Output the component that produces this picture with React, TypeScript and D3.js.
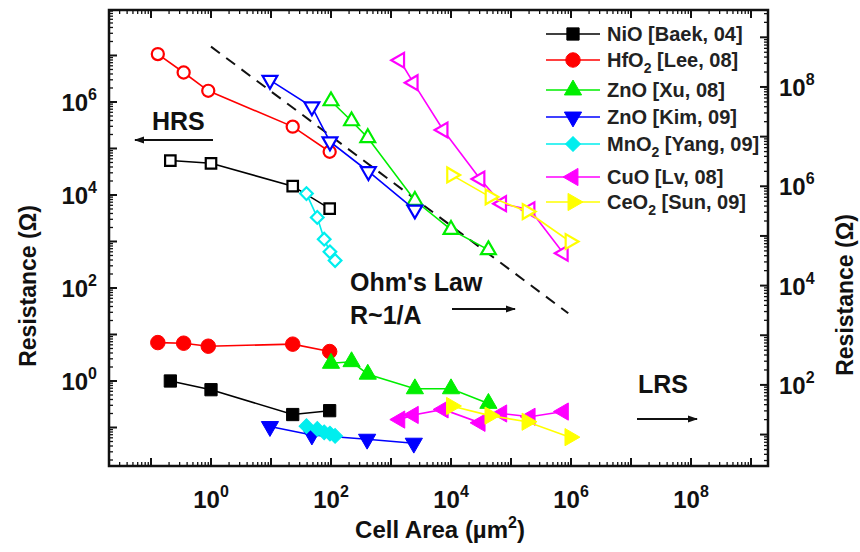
import React from 'react';
import * as d3 from 'd3';

// ---------------- data ----------------
const nioArea = [0.21, 1.0, 23, 95];
const nioHrs = [5.5e4, 4.8e4, 1.55e4, 5.1e3];
const nioLrs = [1.0, 0.65, 0.19, 0.23];

const hfo2Area = [0.13, 0.35, 0.9, 23, 95];
const hfo2Hrs = [1.07e7, 4.3e6, 1.74e6, 2.95e5, 8.5e4];
const hfo2Lrs = [6.7, 6.5, 5.6, 6.2, 4.3];

const znoXuArea = [100, 220, 410, 2500, 10000, 42000];
const znoXuHrs = [1.05e6, 3.9e5, 1.7e5, 7.6e3, 1.8e3, 660];
const znoXuLrs = [2.4, 2.6, 1.4, 0.68, 0.68, 0.33];

const znoKimAreaHrs = [9.6, 48, 96, 420, 2500];
const znoKimHrs = [2.95e6, 7.9e5, 1.4e5, 3.2e4, 4.8e3];
const znoKimAreaLrs = [9.6, 48, 400, 2400];
const znoKimLrs = [0.105, 0.069, 0.056, 0.046];

const mno2Area = [39, 59, 77, 96, 117];
const mno2Hrs = [1.07e4, 3.3e3, 1.12e3, 600, 390];
const mno2Lrs = [0.107, 0.093, 0.079, 0.074, 0.066];

const cuoArea = [1400, 2350, 7400, 30500, 70000, 208000, 745000];
const cuoHrs = [7.9e6, 2.6e6, 2.5e5, 2.2e4, 6.5e3, 4.8e3, 560];
const cuoLrs = [0.148, 0.186, 0.245, 0.126, 0.2, 0.17, 0.22];

const ceo2Area = [10200, 44600, 185000, 960000];
const ceo2Hrs = [2.7e4, 9.1e3, 4.4e3, 1.0e3];
const ceo2Lrs = [0.29, 0.18, 0.133, 0.062];

const ohmArea = [1, 9e5];
const ohmR = [1.55e7, 28.6];

const xTickExps = [0, 2, 4, 6, 8];
const yLeftTickExps = [0, 2, 4, 6];
const yRightTickExps = [2, 4, 6, 8];

const legendPre = ['NiO', 'HfO', 'ZnO', 'ZnO', 'MnO', 'CuO', 'CeO'];
const legendSub = ['', '2', '', '', '2', '', '2'];
const legendPost = [' [Baek, 04]', ' [Lee, 08]', ' [Xu, 08]', ' [Kim, 09]', ' [Yang, 09]', ' [Lv, 08]', ' [Sun, 09]'];

// ---------------- layout ----------------
const W = 860, H = 552;
const L = 109, R = 768, T = 10, B = 466;
const FONT = "'Liberation Sans', Arial, Helvetica, sans-serif";

const x = d3.scaleLog().domain([10 ** -1.7, 10 ** 9.283]).range([L, R]);
const y = d3.scaleLog().domain([10 ** -1.828, 10 ** 7.978]).range([B, T]);
const yR = d3.scaleLog().domain([10 ** 0.367, 10 ** 9.55]).range([B, T]);

type Sym = 'square' | 'circle' | 'up' | 'down' | 'diamond' | 'left' | 'right';

interface Series {
  color: string;
  sym: Sym;
  hrsX: number[];
  hrsY: number[];
  lrsX: number[];
  lrsY: number[];
}

const series: Series[] = [
  { color: '#000000', sym: 'square', hrsX: nioArea, hrsY: nioHrs, lrsX: nioArea, lrsY: nioLrs },
  { color: '#ff0000', sym: 'circle', hrsX: hfo2Area, hrsY: hfo2Hrs, lrsX: hfo2Area, lrsY: hfo2Lrs },
  { color: '#00ee00', sym: 'up', hrsX: znoXuArea, hrsY: znoXuHrs, lrsX: znoXuArea, lrsY: znoXuLrs },
  { color: '#0000ff', sym: 'down', hrsX: znoKimAreaHrs, hrsY: znoKimHrs, lrsX: znoKimAreaLrs, lrsY: znoKimLrs },
  { color: '#00eeee', sym: 'diamond', hrsX: mno2Area, hrsY: mno2Hrs, lrsX: mno2Area, lrsY: mno2Lrs },
  { color: '#ff00ff', sym: 'left', hrsX: cuoArea, hrsY: cuoHrs, lrsX: cuoArea, lrsY: cuoLrs },
  { color: '#ffff00', sym: 'right', hrsX: ceo2Area, hrsY: ceo2Hrs, lrsX: ceo2Area, lrsY: ceo2Lrs },
];

function symPath(sym: Sym, filled: boolean): { d: string; rot: number } {
  const k = filled ? 1.35 : 1;
  switch (sym) {
    case 'square':
      return { d: d3.symbol(d3.symbolSquare, (filled ? 150 : 110))()!, rot: 0 };
    case 'circle':
      return { d: d3.symbol(d3.symbolCircle, (filled ? 165 : 115))()!, rot: 0 };
    case 'diamond':
      return { d: d3.symbol(d3.symbolSquare, (filled ? 110 : 80))()!, rot: 45 };
    case 'up':
      return { d: d3.symbol(d3.symbolTriangle, 95 * k)()!, rot: 0 };
    case 'down':
      return { d: d3.symbol(d3.symbolTriangle, 95 * k)()!, rot: 180 };
    case 'left':
      return { d: d3.symbol(d3.symbolTriangle, 95 * k)()!, rot: -90 };
    case 'right':
      return { d: d3.symbol(d3.symbolTriangle, 95 * k)()!, rot: 90 };
  }
}

function logTicks(scale: d3.ScaleLogarithmic<number, number>) {
  const [a, b] = scale.domain();
  const lo = Math.floor(Math.log10(a));
  const hi = Math.ceil(Math.log10(b));
  const majors: number[] = [];
  const minors: number[] = [];
  for (let k = lo; k <= hi; k++) {
    const v = 10 ** k;
    if (v >= a && v <= b) majors.push(v);
    for (let m = 2; m <= 9; m++) {
      const w = m * 10 ** k;
      if (w >= a && w <= b) minors.push(w);
    }
  }
  return { majors, minors };
}

const lineGen = d3.line<[number, number]>().x((d) => d[0]).y((d) => d[1]);

function Markers({ xs, ys, s, filled, color }: { xs: number[]; ys: number[]; s: Sym; filled: boolean; color: string }) {
  const p = symPath(s, filled);
  return (
    <g>
      {xs.map((v, i) => (
        <path
          key={i}
          d={p.d}
          transform={`translate(${x(v)},${y(ys[i])}) rotate(${p.rot})`}
          fill={filled ? color : 'white'}
          stroke={color}
          strokeWidth={filled ? 1 : 2.2}
        />
      ))}
    </g>
  );
}

function Pow({ xx, yy, exp, anchor }: { xx: number; yy: number; exp: number; anchor: 'start' | 'middle' | 'end' }) {
  return (
    <text x={xx} y={yy} textAnchor={anchor} fontFamily={FONT} fontWeight="bold" fontSize={24} fill="#111">
      <tspan>10</tspan>
      <tspan dy={-11} fontSize={16}>{exp}</tspan>
    </text>
  );
}

export default function App() {
  const xt = logTicks(x);
  const yt = logTicks(y);
  const yrt = logTicks(yR);
  const MAJ = 8, MIN = 4;

  return (
    <svg width={W} height={H} style={{ position: 'absolute', left: 0, top: 0, background: 'white' }}>
      <defs>
        <marker id="ah" viewBox="0 0 10 10" refX="9" refY="5" markerWidth="5" markerHeight="5" orient="auto">
          <path d="M0,1.5 L10,5 L0,8.5 z" fill="#111" />
        </marker>
      </defs>
      <rect x={0} y={0} width={W} height={H} fill="white" />

      {/* Ohm's law dashed line */}
      <path
        d={lineGen(ohmArea.map((v, i) => [x(v), y(ohmR[i])]))!}
        fill="none"
        stroke="#111"
        strokeWidth={2}
        strokeDasharray="11,8"
      />

      {/* series */}
      {series.map((s, i) => (
        <g key={i}>
          <path d={lineGen(s.hrsX.map((v, j) => [x(v), y(s.hrsY[j])]))!} fill="none" stroke={s.color} strokeWidth={1.6} />
          <Markers xs={s.hrsX} ys={s.hrsY} s={s.sym} filled={false} color={s.color} />
        </g>
      ))}
      {series.map((s, i) => (
        <g key={'l' + i}>
          <path d={lineGen(s.lrsX.map((v, j) => [x(v), y(s.lrsY[j])]))!} fill="none" stroke={s.color} strokeWidth={1.6} />
          <Markers xs={s.lrsX} ys={s.lrsY} s={s.sym} filled={true} color={s.color} />
        </g>
      ))}

      {/* frame */}
      <rect x={L} y={T} width={R - L} height={B - T} fill="none" stroke="#111" strokeWidth={2.5} />

      {/* x ticks (bottom & top, inward) */}
      {xt.majors.map((v, i) => (
        <g key={'xm' + i} stroke="#111" strokeWidth={2}>
          <line x1={x(v)} x2={x(v)} y1={B} y2={B - MAJ} />
          <line x1={x(v)} x2={x(v)} y1={T} y2={T + MAJ} />
        </g>
      ))}
      {xt.minors.map((v, i) => (
        <g key={'xn' + i} stroke="#111" strokeWidth={1.3}>
          <line x1={x(v)} x2={x(v)} y1={B} y2={B - MIN} />
          <line x1={x(v)} x2={x(v)} y1={T} y2={T + MIN} />
        </g>
      ))}
      {/* left ticks */}
      {yt.majors.map((v, i) => (
        <line key={'ym' + i} x1={L} x2={L + MAJ} y1={y(v)} y2={y(v)} stroke="#111" strokeWidth={2} />
      ))}
      {yt.minors.map((v, i) => (
        <line key={'yn' + i} x1={L} x2={L + MIN} y1={y(v)} y2={y(v)} stroke="#111" strokeWidth={1.3} />
      ))}
      {/* right ticks */}
      {yrt.majors.map((v, i) => (
        <line key={'rm' + i} x1={R} x2={R - MAJ} y1={yR(v)} y2={yR(v)} stroke="#111" strokeWidth={2} />
      ))}
      {yrt.minors.map((v, i) => (
        <line key={'rn' + i} x1={R} x2={R - MIN} y1={yR(v)} y2={yR(v)} stroke="#111" strokeWidth={1.3} />
      ))}

      {/* tick labels */}
      {xTickExps.map((e) => (
        <Pow key={'xl' + e} xx={x(10 ** e)} yy={508} exp={e} anchor="middle" />
      ))}
      {yLeftTickExps.map((e) => (
        <Pow key={'yl' + e} xx={97} yy={y(10 ** e) + 9} exp={e} anchor="end" />
      ))}
      {yRightTickExps.map((e) => (
        <Pow key={'yr' + e} xx={779} yy={yR(10 ** e) + 9} exp={e} anchor="start" />
      ))}

      {/* axis titles */}
      <text x={440} y={538} textAnchor="middle" fontFamily={FONT} fontWeight="bold" fontSize={24} fill="#111">
        <tspan>Cell Area (µm</tspan>
        <tspan dy={-10} fontSize={16}>2</tspan>
        <tspan dy={10}>)</tspan>
      </text>
      <text transform="translate(36,286) rotate(-90)" textAnchor="middle" fontFamily={FONT} fontWeight="bold" fontSize={23} fill="#111">
        Resistance (Ω)
      </text>
      <text transform="translate(853,295) rotate(-90)" textAnchor="middle" fontFamily={FONT} fontWeight="bold" fontSize={23} fill="#111">
        Resistance (Ω)
      </text>

      {/* annotations */}
      <text x={152} y={130} fontFamily={FONT} fontWeight="bold" fontSize={25} fill="#111">HRS</text>
      <line x1={213} y1={140} x2={135} y2={140} stroke="#111" strokeWidth={2} markerEnd="url(#ah)" />
      <text x={350} y={291} fontFamily={FONT} fontWeight="bold" fontSize={25} fill="#111">Ohm's Law</text>
      <text x={350} y={324} fontFamily={FONT} fontWeight="bold" fontSize={25} fill="#111">R~1/A</text>
      <line x1={452} y1={309} x2={515} y2={309} stroke="#111" strokeWidth={2} markerEnd="url(#ah)" />
      <text x={638} y={393} fontFamily={FONT} fontWeight="bold" fontSize={25} fill="#111">LRS</text>
      <line x1={637} y1={419} x2={697} y2={419} stroke="#111" strokeWidth={2} markerEnd="url(#ah)" />

      {/* legend */}
      {series.map((s, i) => {
        const cy = [34, 60, 90, 117, 144, 177, 202][i];
        const p = symPath(s.sym, true);
        return (
          <g key={'lg' + i}>
            <line x1={546} x2={600} y1={cy} y2={cy} stroke={s.color} strokeWidth={1.6} />
            <path d={p.d} transform={`translate(573,${cy}) rotate(${p.rot})`} fill={s.color} stroke={s.color} strokeWidth={1} />
            <text x={607} y={cy + 7} fontFamily={FONT} fontWeight="bold" fontSize={20} fill="#222">
              <tspan>{legendPre[i]}</tspan>
              {legendSub[i] ? <tspan dy={6} fontSize={14}>{legendSub[i]}</tspan> : null}
              <tspan dy={legendSub[i] ? -6 : 0}>{legendPost[i]}</tspan>
            </text>
          </g>
        );
      })}
    </svg>
  );
}
